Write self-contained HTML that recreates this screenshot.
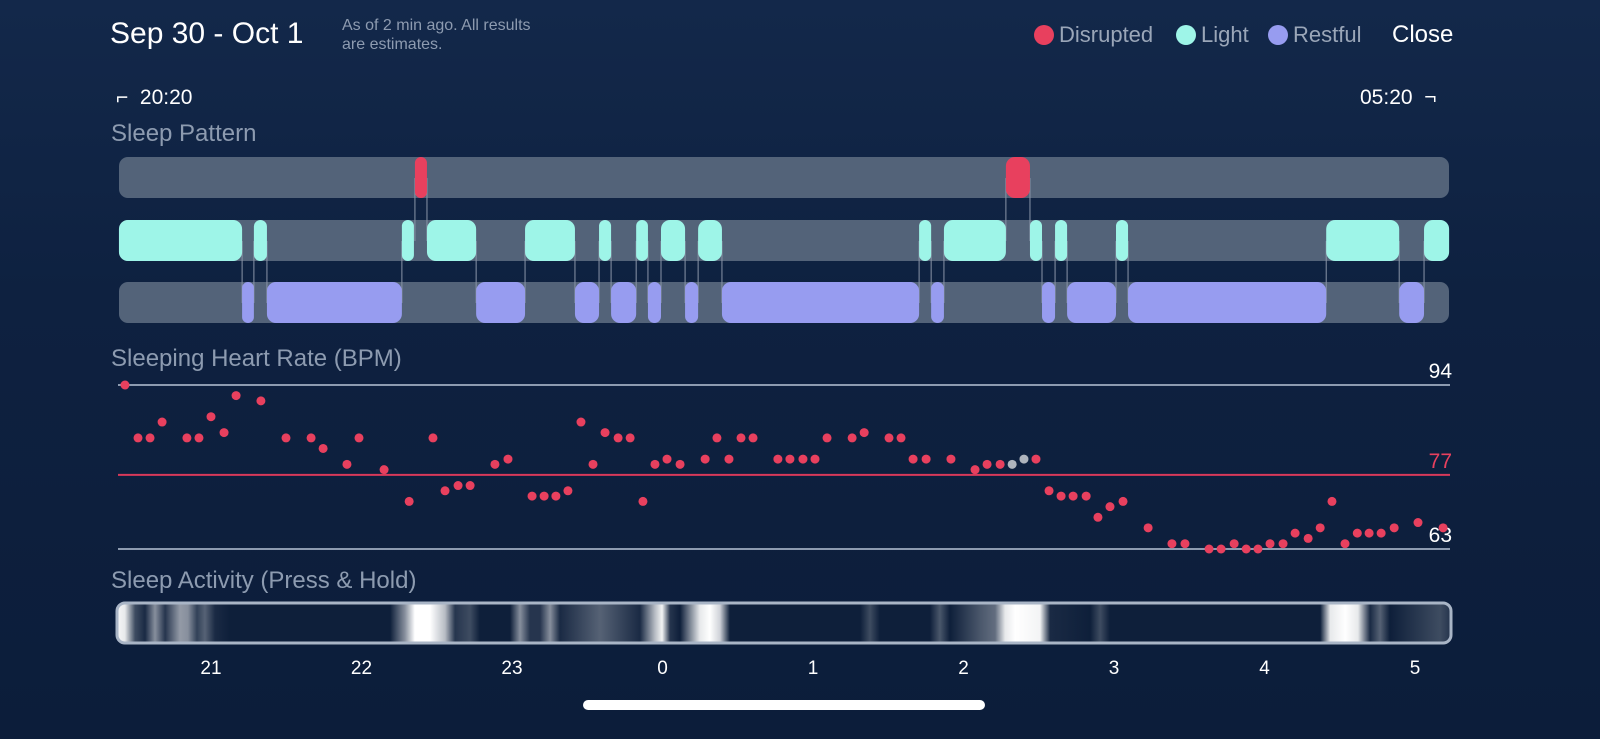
<!DOCTYPE html>
<html><head><meta charset="utf-8">
<style>
html,body{margin:0;padding:0}
body{width:1600px;height:739px;overflow:hidden;background:linear-gradient(180deg,#13284a 0%,#0e2140 40%,#0c1d3a 100%);font-family:"Liberation Sans",sans-serif;position:relative;color:#fff}
.abs{position:absolute;white-space:nowrap}
.lbl{color:#8d9bb0;font-size:24px}
</style></head><body>
<div class="abs" style="left:110px;top:17px;font-size:30px">Sep 30 - Oct 1</div>
<div class="abs" style="left:342px;top:16px;font-size:16px;line-height:19px;color:#8d9bb0">As of 2 min ago. All results<br>are estimates.</div>
<div class="abs" style="left:1034px;top:22px;font-size:22px;color:#9aa6b8"><span style="display:inline-block;width:20px;height:20px;border-radius:50%;background:#e8405e;vertical-align:-3px;margin-right:5px"></span>Disrupted</div>
<div class="abs" style="left:1176px;top:22px;font-size:22px;color:#9aa6b8"><span style="display:inline-block;width:20px;height:20px;border-radius:50%;background:#9ef5e8;vertical-align:-3px;margin-right:5px"></span>Light</div>
<div class="abs" style="left:1268px;top:22px;font-size:22px;color:#9aa6b8"><span style="display:inline-block;width:20px;height:20px;border-radius:50%;background:#979cf0;vertical-align:-3px;margin-right:5px"></span>Restful</div>
<div class="abs" style="left:1392px;top:21px;font-size:24px">Close</div>
<div class="abs" style="left:116px;top:86px;font-size:21px">⌐&nbsp; 20:20</div>
<div class="abs" style="left:1360px;top:86px;font-size:21px">05:20 &nbsp;¬</div>
<div class="abs lbl" style="left:111px;top:120px">Sleep Pattern</div>
<div class="abs lbl" style="left:111px;top:345px">Sleeping Heart Rate (BPM)</div>
<div class="abs lbl" style="left:111px;top:567px">Sleep Activity (Press &amp; Hold)</div>
<div class="abs" style="left:583px;top:700px;width:402px;height:10px;border-radius:5px;background:#fff"></div>
<svg id="chart" width="1600" height="739" style="position:absolute;left:0;top:0"></svg>
<script>
// minutes since 20:00
const disrupted=[[141.3,146.1],[376.9,386.5]];
const light=[[23.3,72.4],[77.1,82.3],[136.1,140.9],[146.1,165.7],[185.2,205.1],[214.7,219.5],[229.5,234.2],[239.4,249],[254.2,263.7],[342.3,347.1],[352.2,376.9],[386.5,391.3],[396.5,401.3],[420.8,425.6],[504.6,533.7],[543.6,553.6]];
const restful=[[72.4,77.1],[82.3,136.1],[165.7,185.2],[205.1,214.7],[219.5,229.5],[234.2,239.4],[249,254.2],[263.7,342.3],[347.1,352.2],[391.3,396.5],[401.3,420.8],[425.6,504.6],[533.7,543.6]];
const hrMinutes=[25.7,30.9,35.7,40.5,50.4,55.2,60,65.2,70,79.9,89.9,99.9,104.7,114.2,119,129,139,148.5,153.3,158.5,163.3,173.2,178.4,188,192.8,197.5,202.3,207.5,212.3,217.1,222.3,227.1,232.2,237,241.8,247,257,261.7,266.5,271.3,276.1,286,290.8,296,300.8,305.6,315.6,320.4,330.3,335.1,339.9,345.1,355,364.6,369.4,374.6,379.4,384.1,388.9,394.1,398.9,403.7,408.9,413.6,418.4,423.6,433.6,443.1,448.3,457.9,462.7,467.9,472.7,477.4,482.2,487.4,492.2,497.4,502.2,506.9,512.1,517,521.7,526.5,531.7,541.2,551.2];
const hrValues=[94,84,84,87,84,84,88,85,92,91,84,84,82,79,84,78,72,84,74,75,75,79,80,73,73,73,74,87,79,85,84,84,72,79,80,79,80,84,80,84,84,80,80,80,80,84,84,85,84,84,80,80,80,78,79,79,79,80,80,74,73,73,73,69,71,72,67,64,64,63,63,64,63,63,64,64,66,65,67,72,64,66,66,66,67,68,67];
const hrGray=[56,57];
const hrTicks=[94,77,63];
const hourLabels=["21","22","23","0","1","2","3","4","5"];
const hourMinutes=[60,120,180,240,300,360,420,480,540];
const actMinutes=[23.3,25.7,29.7,33.7,37.7,41.7,47.6,50.8,54.4,57.6,61.6,67.6,131.4,137.3,141.3,147.3,153.3,157.3,163.3,167.2,179.2,183.2,187.2,191.2,195.2,199.1,215.1,231,237,239.8,243,247,254.9,258.9,262.9,266.9,318.8,322.7,326.7,346.6,350.6,354.6,366.6,372.6,376.6,380.6,390.5,394.5,410.5,414.5,418.4,502.2,506.2,512.2,517.3,522.1,526.1,530,550,554];
const actLevels=[0.95,0.9,0.2,0.05,0.5,0.1,0.55,0.5,0.15,0.3,0.05,0,0,0.5,1,1,0.7,0.1,0.2,0,0,0.5,0.1,0.1,0.5,0.05,0.3,0.05,0.7,0.95,0.1,0,0.9,1,0.8,0,0,0.2,0,0,0.25,0,0.25,0.35,0.9,1,0.95,0.05,0,0.2,0,0,0.9,1,0.9,0.05,0.3,0,0.2,0.1];

const NS='http://www.w3.org/2000/svg';
const svg=document.getElementById('chart');
const x=m=>211+(m-60)*150.5/60;
const y=v=>385+(94-v)*(549-385)/31;
function mk(t,a,p){const e=document.createElementNS(NS,t);for(const k in a)e.setAttribute(k,a[k]);(p||svg).appendChild(e);return e;}
const rows=[[157,disrupted,'#e8405e','disrupted'],[220,light,'#9ef5e8','light'],[282,restful,'#979cf0','restful']];
rows.forEach(r=>{
 const bg=mk('rect',{x:119,y:r[0],width:1330,height:41,rx:9,fill:'#536379'});
 
 
});
const all=[[disrupted,178],[light,241],[restful,303]];
function conn(a,b){a[0].forEach(s=>{[s[0],s[1]].forEach(m=>{b[0].forEach(t=>{if(Math.abs(t[0]-m)<0.6||Math.abs(t[1]-m)<0.6){const l=mk('line',{x1:x(m),x2:x(m),y1:a[1],y2:b[1],stroke:'#8a95a8','stroke-width':1});}});});});}
conn(all[0],all[1]);conn(all[1],all[2]);
rows.forEach(r=>{r[1].forEach(s=>{
 const w=x(s[1])-x(s[0]);
 const e=mk('rect',{x:x(s[0]),y:r[0],width:w,height:41,rx:Math.min(9,w/2),fill:r[2]});
 
 
});});
hrTicks.forEach((v,i)=>{
 const red=i==1;
 const l=mk('line',{x1:118,x2:1450,y1:y(v),y2:y(v),stroke:red?'#d8395a':'#8d9bb0','stroke-width':2});
 
 
 const t=mk('text',{x:1452,y:y(v)-7,'text-anchor':'end','font-size':21,fill:red?'#e8405e':'#fff','font-family':'Liberation Sans'});
 t.textContent=v;
 
 
});
hrMinutes.forEach((m,i)=>{
 const c=mk('circle',{cx:x(m),cy:y(hrValues[i]),r:4.5,fill:hrGray.includes(i)?'#aeb4bd':'#e8405e'});
 
 
});
const defs=mk('defs',{});
const g=mk('linearGradient',{id:'ag',x1:x(23.3),x2:x(554),y1:0,y2:0,gradientUnits:'userSpaceOnUse'},defs);
actMinutes.forEach((m,i)=>{
 const L=actLevels[i];
 const c=Math.round(14+L*241),c2=Math.round(31+L*224),c3=Math.round(58+L*197);
 mk('stop',{offset:((x(m)-x(23.3))/(x(554)-x(23.3))).toFixed(4),'stop-color':`rgb(${c},${c2},${c3})`},g);
});
const ab=mk('rect',{x:117,y:603,width:1334,height:40,rx:8,fill:'url(#ag)',stroke:'#a9b5c6','stroke-width':3});


hourLabels.forEach((h,i)=>{
 const t=mk('text',{x:x(hourMinutes[i]),y:674,'text-anchor':'middle','font-size':19,fill:'#fff','font-family':'Liberation Sans'});
 t.textContent=h;
 
 
});
</script>
</body></html>
